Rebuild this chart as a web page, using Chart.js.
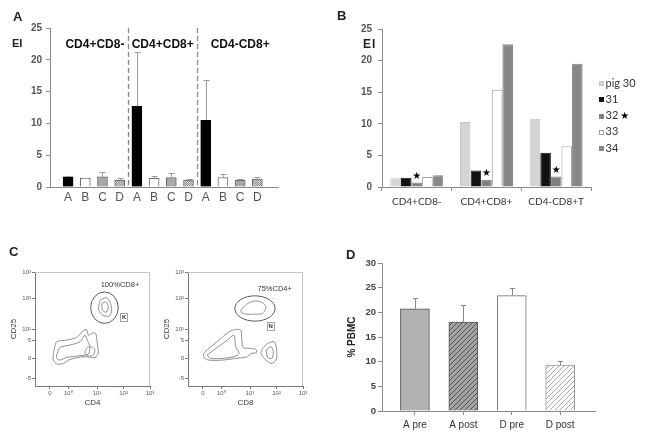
<!DOCTYPE html>
<html>
<head>
<meta charset="utf-8">
<title>EI per subset, EI per pig, flow gates, % PBMC</title>
<script src="https://cdn.jsdelivr.net/npm/chart.js@4.4.1/dist/chart.umd.min.js"></script>
<style>
  body { margin: 0; background: #fff; }
  #page { position: relative; width: 645px; height: 442px; overflow: hidden; font-family: 'Liberation Sans', Arial, sans-serif; }
  canvas { position: absolute; }
  .txt { position: absolute; white-space: nowrap; line-height: 1; color: #222; font-weight: bold; }
  .letter { font-size: 13px; }
  #legendB { position: absolute; left: 599px; top: 74.5px; font-family: Lato, sans-serif; font-size: 11px; color: #333; }
  #legendB div { height: 16.25px; line-height: 16.25px; white-space: nowrap; }
  #legendB .box { display: inline-block; width: 5px; height: 5px; margin-right: 1.5px; vertical-align: middle; box-sizing: border-box; }
</style>
</head>
<body>
<div id="page">
  <canvas id="chartA" width="290" height="210" style="left:0;top:0"></canvas>
  <canvas id="chartB" width="315" height="210" style="left:330px;top:0"></canvas>
  <canvas id="flowCD4" width="160" height="170" style="left:0;top:250px"></canvas>
  <canvas id="flowCD8" width="160" height="170" style="left:153px;top:250px"></canvas>
  <canvas id="chartD" width="315" height="197" style="left:330px;top:245px"></canvas>

  <div class="txt letter" style="left:13px;top:10px">A</div>
  <div class="txt letter" style="left:337px;top:8.5px">B</div>
  <div class="txt letter" style="left:9px;top:245px">C</div>
  <div class="txt letter" style="left:346px;top:248px">D</div>
  <div class="txt" style="left:12px;top:37.5px;font-size:11px">EI</div>
  <div class="txt" style="left:363px;top:38px;font-size:12px;letter-spacing:1px">EI</div>
  <div id="legendB"></div>
</div>

<script>
Chart.defaults.font.family = "'Liberation Sans', Arial, sans-serif";
Chart.defaults.color = '#555';
Chart.defaults.animation = false;
Chart.defaults.responsive = false;
Chart.defaults.plugins.legend.display = false;
Chart.defaults.plugins.tooltip.enabled = false;

// panel A - EI per T cell subset, groups A-D (mean, SD)
const subsetsA = ['CD4+CD8-', 'CD4+CD8+', 'CD4-CD8+'];
const treatA = ['A', 'B', 'C', 'D'];
const meanA = [1.6, 1.35, 1.6, 1.05, 12.7, 1.35, 1.5, 1.1, 10.5, 1.5, 1.05, 1.25];
const errA = [0.15, 0.1, 0.8, 0.3, 8.5, 0.4, 0.65, 0.1, 6.4, 0.5, 0.25, 0.3];

// panel B - EI of the single pigs
const subsetsB = ['CD4+CD8-', 'CD4+CD8+', 'CD4-CD8+T'];
const pigNames = ['pig 30', '31', '32', '33', '34'];
const pig30 = [1.4, 10.3, 10.8];
const pig31 = [1.45, 2.6, 5.4];
const pig32 = [0.7, 1.15, 1.65];
const pig33 = [1.6, 15.4, 6.45];
const pig34 = [1.85, 22.6, 19.5];
const starredPig = '32';

// panel C - flow plots, both axes in display units 0..100 across the frame
const flowXTickPos = [13, 29, 54, 77, 100];
const flowXTickText = ['0', '10⁰', '10¹', '10²', '10³'];
const flowYTickPos = [7, 24, 40, 50, 77, 100];
const flowYTickText = ['-5', '0', '5', '10¹', '10²', '10³'];

const cd4Outer = [[15.9,28.6],[18.8,38.8],[27.5,40.2],[36.2,42.6],[42,48.4],[44.9,49.6],[46.4,44.6],[50.7,46.7],[53,45.5],[54.2,37.3],[55,28.6],[52.2,25.1],[42,25.7],[30.4,23.3],[24.6,19.8],[19.4,19.2],[15.9,22.7]];
const cd4Inner = [[18.8,27.1],[21.7,33.8],[30.4,35.9],[39.1,38.8],[43.5,44.6],[45.5,40.2],[47.8,33.8],[46.4,28],[39.1,26.5],[27.5,25.1],[21.7,22.7],[18.8,24.2]];
const cd4Core = [[43.5,30],[45.5,33.8],[49.3,34.4],[51.9,32.1],[51.3,27.7],[47.2,26.2],[44,27.7]];
const cd4GateOuter = [[56.5,75.2],[61.7,77.5],[65.2,73.8],[66.7,66.5],[64.6,61.2],[58.8,62.1],[55.4,66.5],[55.7,71.7]];
const cd4GateInner = [[58,72.3],[61.7,73.8],[63.8,69.4],[62.3,65],[58.8,65.9]];
const cd4Gate = [60.4, 68.7, 12, 13.8];   // centre x, centre y, radius x, radius y

const cd8Outer = [[13.7,28.6],[18.1,33],[26.9,40.2],[35.6,47.5],[41.5,49.6],[45.9,49],[46.8,40.2],[47.9,33.8],[53.2,33],[59,32.1],[59.6,29.2],[54.7,28.6],[51.7,25.7],[41.5,24.2],[29.8,22.7],[18.1,22.7],[13.7,25.1]];
const cd8Inner = [[16.6,27.1],[25.4,33.8],[34.2,40.2],[40,44.6],[41.5,34.4],[44.4,28.6],[40,25.7],[29.8,24.2],[19.6,24.2]];
const cd8Small = [[64.9,33],[69.2,37.3],[75,38.8],[77.2,31.5],[76.6,22.7],[72.2,19.8],[66.3,24.2],[63.4,28.6]];
const cd8SmallInner = [[67.8,31.5],[72.2,34.4],[74.2,30],[73,24.2],[69.3,25.1]];
const cd8GateInner = [[45.9,66.5],[51.7,72.3],[59,74.7],[64.9,72.9],[67.8,69.4],[64.9,63.6],[57.6,63],[50.3,63],[46.8,64.2]];
const cd8Gate = [58.2, 68, 17.5, 11.1];

// panel D - % PBMC before / after
const groupsD = ['A pre', 'A post', 'D pre', 'D post'];
const meanD = [20.7, 18.0, 23.4, 9.3];
const errD = [2.2, 3.5, 1.5, 0.9];

const fontBold = (size) => ({ size: size, weight: 'bold' });

function stripes(ctxTarget, bg, fg, size) {
  const c = document.createElement('canvas');
  c.width = c.height = size;
  const g = c.getContext('2d');
  g.fillStyle = bg;
  g.fillRect(0, 0, size, size);
  g.strokeStyle = fg;
  g.lineWidth = 1;
  g.beginPath();
  g.moveTo(0, size); g.lineTo(size, 0);
  g.moveTo(-1, 1); g.lineTo(1, -1);
  g.moveTo(size - 1, size + 1); g.lineTo(size + 1, size - 1);
  g.stroke();
  return ctxTarget.createPattern(c, 'repeat');
}

function speckle(ctxTarget, bg, fg) {
  const c = document.createElement('canvas');
  c.width = c.height = 2;
  const g = c.getContext('2d');
  g.fillStyle = bg; g.fillRect(0, 0, 2, 2);
  g.fillStyle = fg; g.fillRect(0, 0, 1, 1); g.fillRect(1, 1, 1, 1);
  return ctxTarget.createPattern(c, 'repeat');
}

// upper error whiskers from dataset.errors
function errorBars(color, cap) {
  return {
    id: 'errorBars',
    afterDatasetsDraw(chart) {
      const ctx = chart.ctx, y = chart.scales.y;
      chart.data.datasets.forEach((ds, di) => {
        if (!ds.errors) return;
        chart.getDatasetMeta(di).data.forEach((bar, i) => {
          const v = typeof ds.data[i] === 'object' ? ds.data[i].y : ds.data[i];
          const top = Math.round(y.getPixelForValue(v + ds.errors[i])) + 0.5;
          const bx = Math.round(bar.x) + 0.5;
          ctx.save();
          ctx.strokeStyle = color;
          ctx.lineWidth = 1;
          ctx.beginPath();
          ctx.moveTo(bx, bar.y);
          ctx.lineTo(bx, top);
          ctx.moveTo(bx - cap, top);
          ctx.lineTo(bx + cap, top);
          ctx.stroke();
          ctx.restore();
        });
      });
    }
  };
}

// ---------------- A
const ctxA = document.getElementById('chartA').getContext('2d');
const fillA = ['#000000', '#ffffff', '#a9a9a9', speckle(ctxA, '#d8d8d8', '#8c8c8c')];
const lineA = ['#000000', '#6a6a6a', '#6a6a6a', '#6a6a6a'];

const subsetMarks = {
  id: 'subsetMarks',
  afterDraw(chart) {
    const { ctx, chartArea, scales: { x } } = chart;
    ctx.save();
    ctx.strokeStyle = '#8a8a8a';
    ctx.lineWidth = 1.3;
    ctx.setLineDash([5, 3]);
    [4.5, 8.5].forEach(v => {
      const px = Math.round(x.getPixelForValue(v)) + 0.5;
      ctx.beginPath();
      ctx.moveTo(px, chartArea.top);
      ctx.lineTo(px, chartArea.bottom);
      ctx.stroke();
    });
    ctx.setLineDash([]);
    ctx.fillStyle = '#111';
    ctx.font = "bold 12px 'Liberation Sans', Arial, sans-serif";
    ctx.textAlign = 'center';
    ctx.textBaseline = 'middle';
    const at = [2.56, 6.5, 11.0];
    subsetsA.forEach((s, i) => ctx.fillText(s, x.getPixelForValue(at[i]), 45));
    ctx.restore();
  }
};

new Chart(ctxA, {
  type: 'bar',
  data: {
    datasets: [{
      data: meanA.map((v, i) => ({ x: i + 1, y: v })),
      errors: errA,
      backgroundColor: meanA.map((v, i) => fillA[i % 4]),
      borderColor: meanA.map((v, i) => lineA[i % 4]),
      borderWidth: 1,
      barThickness: 10
    }]
  },
  options: {
    layout: { padding: { top: 28, right: 12, left: 0, bottom: 0 } },
    scales: {
      x: {
        type: 'linear', min: -0.05, max: 13.2, offset: false,
        afterBuildTicks: s => { s.ticks = meanA.map((v, i) => ({ value: i + 1 })); },
        ticks: { callback: v => treatA[(v - 1) % 4], font: { size: 12 }, color: '#555', padding: 3, autoSkip: false, maxRotation: 0 },
        grid: { display: false, drawTicks: false, offset: false },
        border: { color: '#8a8a8a' },
        afterFit: s => { s.height = 23; }
      },
      y: {
        min: 0, max: 25,
        ticks: { stepSize: 5, font: fontBold(10), color: '#555', padding: 4 },
        grid: { drawOnChartArea: false, tickLength: 4, color: '#8a8a8a' },
        border: { color: '#8a8a8a' },
        afterFit: s => { s.width = 50; }
      }
    }
  },
  plugins: [errorBars('#9a9a9a', 3), subsetMarks]
});

// ---------------- B
const pigSeries = [pig30, pig31, pig32, pig33, pig34];
const pigFill = ['#d4d4d4', '#111111', '#808080', '#ffffff', '#878787'];
const pigLine = ['#c6c6c6', '#111111', '#808080', '#a0a0a0', '#878787'];

const starMarks = {
  id: 'starMarks',
  afterDatasetsDraw(chart) {
    const ctx = chart.ctx;
    chart.data.datasets.forEach((ds, di) => {
      if (ds.label !== starredPig) return;
      chart.getDatasetMeta(di).data.forEach(bar => {
        ctx.save();
        ctx.fillStyle = '#000';
        ctx.font = "10px 'DejaVu Sans', sans-serif";
        ctx.textAlign = 'center';
        ctx.textBaseline = 'middle';
        ctx.fillText('★', bar.x, bar.y - 6);
        ctx.restore();
      });
    });
  }
};

new Chart(document.getElementById('chartB'), {
  type: 'bar',
  data: {
    labels: subsetsB,
    datasets: pigSeries.map((vals, i) => ({
      label: pigNames[i],
      data: vals,
      backgroundColor: pigFill[i],
      borderColor: pigLine[i],
      borderWidth: 1,
      categoryPercentage: 0.76,
      barPercentage: 1.0
    }))
  },
  options: {
    layout: { padding: { top: 29, right: 54, left: 0, bottom: 0 } },
    scales: {
      x: {
        ticks: { font: { family: 'Lato, sans-serif', size: 10 }, color: '#333', padding: 5, maxRotation: 0 },
        grid: { drawOnChartArea: false, tickLength: 4, color: '#8a8a8a', offset: true },
        border: { color: '#8a8a8a' },
        afterFit: s => { s.height = 23; }
      },
      y: {
        min: 0, max: 25,
        ticks: { stepSize: 5, font: fontBold(10), color: '#555', padding: 6 },
        grid: { drawOnChartArea: false, tickLength: 4, color: '#8a8a8a' },
        border: { color: '#8a8a8a' },
        afterFit: s => { s.width = 52; }
      }
    }
  },
  plugins: [starMarks]
});

const legendB = document.getElementById('legendB');
pigNames.forEach((name, i) => {
  const row = document.createElement('div');
  const box = document.createElement('span');
  box.className = 'box';
  box.style.background = pigFill[i];
  box.style.border = '1px solid ' + pigLine[i];
  row.appendChild(box);
  row.appendChild(document.createTextNode(name));
  if (name === starredPig) {
    const star = document.createElement('span');
    star.textContent = '★';
    star.style.cssText = "font-family:'DejaVu Sans',sans-serif;font-size:10px;color:#000;margin-left:2px";
    row.appendChild(star);
  }
  legendB.appendChild(row);
});

// ---------------- C
function gateMarks(gate, label, tag) {
  return {
    id: 'gateMarks',
    afterDraw(chart) {
      const { ctx, chartArea: a, scales: { x, y } } = chart;
      ctx.save();
      ctx.strokeStyle = '#c4c4c4';
      ctx.lineWidth = 1;
      ctx.beginPath();
      ctx.moveTo(a.left, Math.round(a.top) + 0.5);
      ctx.lineTo(Math.round(a.right) - 0.5, Math.round(a.top) + 0.5);
      ctx.lineTo(Math.round(a.right) - 0.5, a.bottom);
      ctx.stroke();

      const px = x.getPixelForValue(gate[0]), py = y.getPixelForValue(gate[1]);
      ctx.strokeStyle = '#5a5a5a';
      ctx.beginPath();
      ctx.ellipse(px, py, Math.abs(x.getPixelForValue(gate[0] + gate[2]) - px),
        Math.abs(y.getPixelForValue(gate[1] + gate[3]) - py), 0, 0, Math.PI * 2);
      ctx.stroke();

      ctx.fillStyle = '#333';
      ctx.textAlign = 'center';
      ctx.textBaseline = 'middle';
      ctx.font = "7.5px 'Liberation Sans', Arial, sans-serif";
      ctx.fillText(label.text, x.getPixelForValue(label.at[0]), y.getPixelForValue(label.at[1]));

      const tx = x.getPixelForValue(tag.at[0]), ty = y.getPixelForValue(tag.at[1]);
      ctx.strokeStyle = '#a0a0a0';
      ctx.strokeRect(Math.round(tx - 3.5) + 0.5, Math.round(ty - 4) + 0.5, 7, 8);
      ctx.font = "bold 6px 'Liberation Sans', Arial, sans-serif";
      ctx.fillText(tag.text, tx + 0.5, ty + 0.5);
      ctx.restore();
    }
  };
}

function flowChart(id, contours, gate, label, tag, xTitle) {
  new Chart(document.getElementById(id), {
    type: 'scatter',
    data: {
      datasets: contours.map(c => ({
        data: c.concat([c[0]]).map(p => ({ x: p[0], y: p[1] })),
        showLine: true,
        pointRadius: 0,
        borderColor: '#8e8e8e',
        borderWidth: 1,
        tension: 0.25
      }))
    },
    options: {
      layout: { padding: { top: 22, right: 10, left: 0, bottom: 0 } },
      scales: {
        x: {
          min: 0, max: 100,
          afterBuildTicks: s => { s.ticks = flowXTickPos.map(v => ({ value: v })); },
          ticks: { callback: v => flowXTickText[flowXTickPos.indexOf(v)], font: { size: 6 }, color: '#555', padding: 1, autoSkip: false, maxRotation: 0 },
          grid: { drawOnChartArea: false, tickLength: 3, color: '#777' },
          border: { color: '#777' },
          title: { display: true, text: xTitle, font: { size: 8 }, color: '#333', padding: { top: 0, bottom: 12 } },
          afterFit: s => { s.height = 34; }
        },
        y: {
          min: 0, max: 100,
          afterBuildTicks: s => { s.ticks = flowYTickPos.map(v => ({ value: v })); },
          ticks: { callback: v => flowYTickText[flowYTickPos.indexOf(v)], font: { size: 6 }, color: '#555', padding: 1, autoSkip: false },
          grid: { drawOnChartArea: false, tickLength: 3, color: '#777' },
          border: { color: '#777' },
          title: { display: true, text: 'CD25', font: { size: 8 }, color: '#333', padding: { top: 9, bottom: 0 } },
          afterFit: s => { s.width = 35; }
        }
      }
    },
    plugins: [gateMarks(gate, label, tag)]
  });
}

flowChart('flowCD4', [cd4Outer, cd4Inner, cd4Core, cd4GateOuter, cd4GateInner], cd4Gate,
  { text: '100%CD8+', at: [73.9, 88.4] }, { text: 'K', at: [77.1, 60.6] }, 'CD4');
flowChart('flowCD8', [cd8Outer, cd8Inner, cd8Small, cd8SmallInner, cd8GateInner], cd8Gate,
  { text: '75%CD4+', at: [75.4, 85.5] }, { text: 'N', at: [71.5, 52.9] }, 'CD8');

// ---------------- D
const ctxD = document.getElementById('chartD').getContext('2d');
const fillD = ['#b2b2b2', stripes(ctxD, '#a4a4a4', '#505050', 5), '#ffffff', stripes(ctxD, '#ffffff', '#a8a8a8', 5)];
const lineD = ['#555555', '#555555', '#707070', '#999999'];

new Chart(ctxD, {
  type: 'bar',
  data: {
    datasets: [{
      data: meanD.map((v, i) => ({ x: i + 1, y: v })),
      errors: errD,
      backgroundColor: fillD,
      borderColor: lineD,
      borderWidth: 1,
      barThickness: 29
    }]
  },
  options: {
    layout: { padding: { top: 18, right: 50, left: 0, bottom: 0 } },
    scales: {
      x: {
        type: 'linear', min: 0.32, max: 4.72, offset: false,
        afterBuildTicks: s => { s.ticks = groupsD.map((g, i) => ({ value: i + 1 })); },
        ticks: { callback: v => groupsD[v - 1], font: { size: 10 }, color: '#333', padding: 4, autoSkip: false, maxRotation: 0 },
        grid: { drawOnChartArea: false, tickLength: 4, color: '#8a8a8a', offset: false },
        border: { color: '#8a8a8a' },
        afterFit: s => { s.height = 31; }
      },
      y: {
        min: 0, max: 30,
        ticks: { stepSize: 5, font: fontBold(9.5), color: '#444', padding: 2 },
        grid: { drawOnChartArea: false, tickLength: 4, color: '#8a8a8a' },
        border: { color: '#8a8a8a' },
        title: { display: true, text: '% PBMC', font: fontBold(10), color: '#222', padding: { top: 16.5, bottom: 0 } },
        afterFit: s => { s.width = 52; }
      }
    }
  },
  plugins: [errorBars('#888888', 2.5)]
});
</script>
</body>
</html>
